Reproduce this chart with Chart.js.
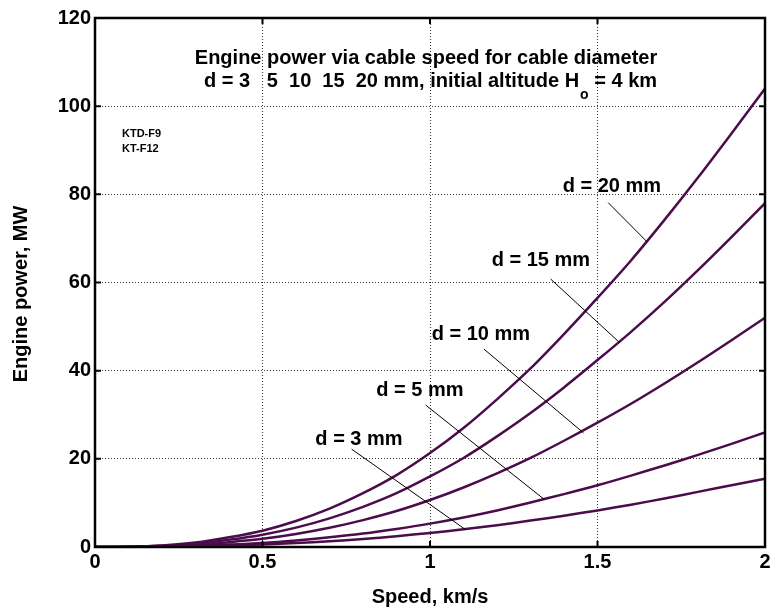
<!DOCTYPE html>
<html>
<head>
<meta charset="utf-8">
<script src="https://cdn.jsdelivr.net/npm/chart.js@4/dist/chart.umd.min.js"></script>
<style>
  html, body { margin: 0; padding: 0; background: #fff; }
  #wrap { width: 775px; height: 613px; }
</style>
</head>
<body>
<div id="wrap"><canvas id="power-chart" width="775" height="613"></canvas></div>
<script>
// speed, km/s
const speeds = [0, 0.1, 0.2, 0.3, 0.4, 0.5, 0.6, 0.7, 0.8, 0.9, 1.0,
                1.1, 1.2, 1.3, 1.4, 1.5, 1.6, 1.7, 1.8, 1.9, 2.0];

// engine power, MW
const power3  = [0, 0.01, 0.05, 0.15, 0.33, 0.55, 0.9, 1.3, 1.8, 2.45, 3.2,
                 4.0, 4.95, 6.0, 7.1, 8.3, 9.6, 11.0, 12.5, 14.0, 15.5];
const power5  = [0, 0.02, 0.09, 0.25, 0.55, 0.93, 1.5, 2.2, 3.05, 4.1, 5.3,
                 6.7, 8.3, 10.1, 12.0, 14.0, 16.2, 18.5, 20.9, 23.4, 26.0];
const power10 = [0, 0.04, 0.18, 0.5, 1.1, 1.85, 2.95, 4.35, 6.1, 8.15, 10.65,
                 13.5, 16.7, 20.2, 24.1, 28.2, 32.5, 37.1, 41.9, 46.9, 52.0];
const power15 = [0, 0.06, 0.26, 0.75, 1.65, 2.8, 4.4, 6.5, 9.1, 12.2, 16.0,
                 20.2, 25.1, 30.4, 36.2, 42.4, 48.8, 55.6, 62.8, 70.3, 78.0];
const power20 = [0, 0.08, 0.35, 1.0, 2.2, 3.7, 5.9, 8.7, 12.2, 16.3, 21.3,
                 27.0, 33.5, 40.5, 48.3, 56.5, 65.0, 74.2, 83.8, 93.8, 104.0];

const seriesNames = ['d = 3 mm', 'd = 5 mm', 'd = 10 mm', 'd = 15 mm', 'd = 20 mm'];
const seriesValues = [power3, power5, power10, power15, power20];

const xTicks = [0, 0.5, 1, 1.5, 2];
const yTicks = [0, 20, 40, 60, 80, 100, 120];

const titleLine1 = 'Engine power via cable speed for cable diameter';
const titleLine2 = 'd = 3   5  10  15  20 mm, initial altitude H';
const titleSub = 'o';
const titleLine2End = ' = 4 km';
const sideNotes = ['KTD-F9', 'KT-F12'];

// label text position and leader line (data units), same order as seriesNames
const callouts = [
    { at: [0.788, 24.3], from: [0.766, 22.2], to: [1.107, 3.9] },
    { at: [0.970, 35.6], from: [0.987, 32.2], to: [1.341, 10.8] },
    { at: [1.152, 48.3], from: [1.161, 44.9], to: [1.458, 25.9] },
    { at: [1.331, 64.9], from: [1.360, 60.8], to: [1.567, 46.3] },
    { at: [1.543, 81.7], from: [1.532, 78.1], to: [1.647, 69.3] },
];

const lineColor = '#4b0c4b';
const fontFamily = '"Liberation Sans", Arial, Helvetica, sans-serif';
const boldFont = { family: fontFamily, size: 20, weight: 'bold' };

const ctx = document.getElementById('power-chart');

const matlabLook = {
    id: 'matlabLook',
    afterDraw(chart) {
        const c = chart.ctx;
        const area = chart.chartArea;
        const xs = chart.scales.x;
        const ys = chart.scales.y;
        c.save();

        // inward tick marks on all four sides
        c.strokeStyle = '#000';
        c.lineWidth = 2;
        c.beginPath();
        xTicks.forEach(v => {
            const px = xs.getPixelForValue(v);
            c.moveTo(px, area.bottom); c.lineTo(px, area.bottom - 6);
            c.moveTo(px, area.top); c.lineTo(px, area.top + 6);
        });
        yTicks.forEach(v => {
            const py = ys.getPixelForValue(v);
            c.moveTo(area.left, py); c.lineTo(area.left + 6, py);
            c.moveTo(area.right, py); c.lineTo(area.right - 6, py);
        });
        c.stroke();

        // box
        c.lineWidth = 2.5;
        c.strokeRect(area.left, area.top, area.right - area.left, area.bottom - area.top);

        // leader lines
        c.lineWidth = 1;
        c.beginPath();
        callouts.forEach(cl => {
            c.moveTo(xs.getPixelForValue(cl.from[0]), ys.getPixelForValue(cl.from[1]));
            c.lineTo(xs.getPixelForValue(cl.to[0]), ys.getPixelForValue(cl.to[1]));
        });
        c.stroke();

        c.fillStyle = '#000';
        c.font = 'bold 20px ' + fontFamily;
        c.textAlign = 'center';
        c.textBaseline = 'middle';
        callouts.forEach((cl, i) => {
            c.fillText(seriesNames[i], xs.getPixelForValue(cl.at[0]), ys.getPixelForValue(cl.at[1]));
        });

        // title inside the plot
        c.fillText(titleLine1, 426, 58);
        c.textAlign = 'left';
        c.textBaseline = 'alphabetic';
        const w1 = c.measureText(titleLine2).width;
        const w3 = c.measureText(titleLine2End).width;
        c.font = 'bold 14px ' + fontFamily;
        const w2 = c.measureText(titleSub).width;
        let x0 = 430 - (w1 + w2 + w3) / 2;
        c.font = 'bold 20px ' + fontFamily;
        c.fillText(titleLine2, x0, 87);
        c.font = 'bold 14px ' + fontFamily;
        c.fillText(titleSub, x0 + w1 + 1, 99);
        c.font = 'bold 20px ' + fontFamily;
        c.fillText(titleLine2End, x0 + w1 + w2 + 1, 87);

        // small notes at top left
        c.font = 'bold 11px ' + fontFamily;
        c.textBaseline = 'middle';
        sideNotes.forEach((t, i) => c.fillText(t, 122, 134 + i * 15));

        // y axis title
        c.font = 'bold 20px ' + fontFamily;
        c.textAlign = 'center';
        c.translate(21, 294);
        c.rotate(-Math.PI / 2);
        c.fillText('Engine power, MW', 0, 0);

        c.restore();
    }
};

new Chart(ctx, {
    type: 'line',
    data: {
        datasets: seriesValues.map((vals, i) => ({
            label: seriesNames[i],
            data: speeds.map((s, j) => ({ x: s, y: vals[j] })),
            borderColor: lineColor,
            borderWidth: 2.5,
            pointRadius: 0,
            tension: 0.3,
            fill: false
        }))
    },
    options: {
        responsive: false,
        animation: false,
        devicePixelRatio: 1,
        layout: { padding: { top: 18, right: 10, left: 0, bottom: 0 } },
        plugins: {
            legend: { display: false },
            tooltip: { enabled: false }
        },
        scales: {
            x: {
                type: 'linear',
                min: 0,
                max: 2,
                afterBuildTicks: s => { s.ticks = xTicks.map(v => ({ value: v })); },
                afterFit: s => { s.height = 66; },
                grid: { color: '#333', lineWidth: 1, drawTicks: false },
                border: { display: true, color: '#000', width: 2, dash: [1, 2] },
                ticks: {
                    color: '#000',
                    font: boldFont,
                    padding: 3,
                    maxRotation: 0,
                    autoSkip: false,
                    callback: v => String(v)
                },
                title: {
                    display: true,
                    text: 'Speed, km/s',
                    color: '#000',
                    font: boldFont,
                    padding: { top: 4, bottom: 4 }
                }
            },
            y: {
                min: 0,
                max: 120,
                afterBuildTicks: s => { s.ticks = yTicks.map(v => ({ value: v })); },
                afterFit: s => { s.width = 95; },
                grid: { color: '#333', lineWidth: 1, drawTicks: false },
                border: { display: true, color: '#000', width: 2, dash: [1, 2] },
                ticks: {
                    color: '#000',
                    font: boldFont,
                    padding: 4,
                    callback: v => String(v)
                }
            }
        }
    },
    plugins: [matlabLook]
});
</script>
</body>
</html>
